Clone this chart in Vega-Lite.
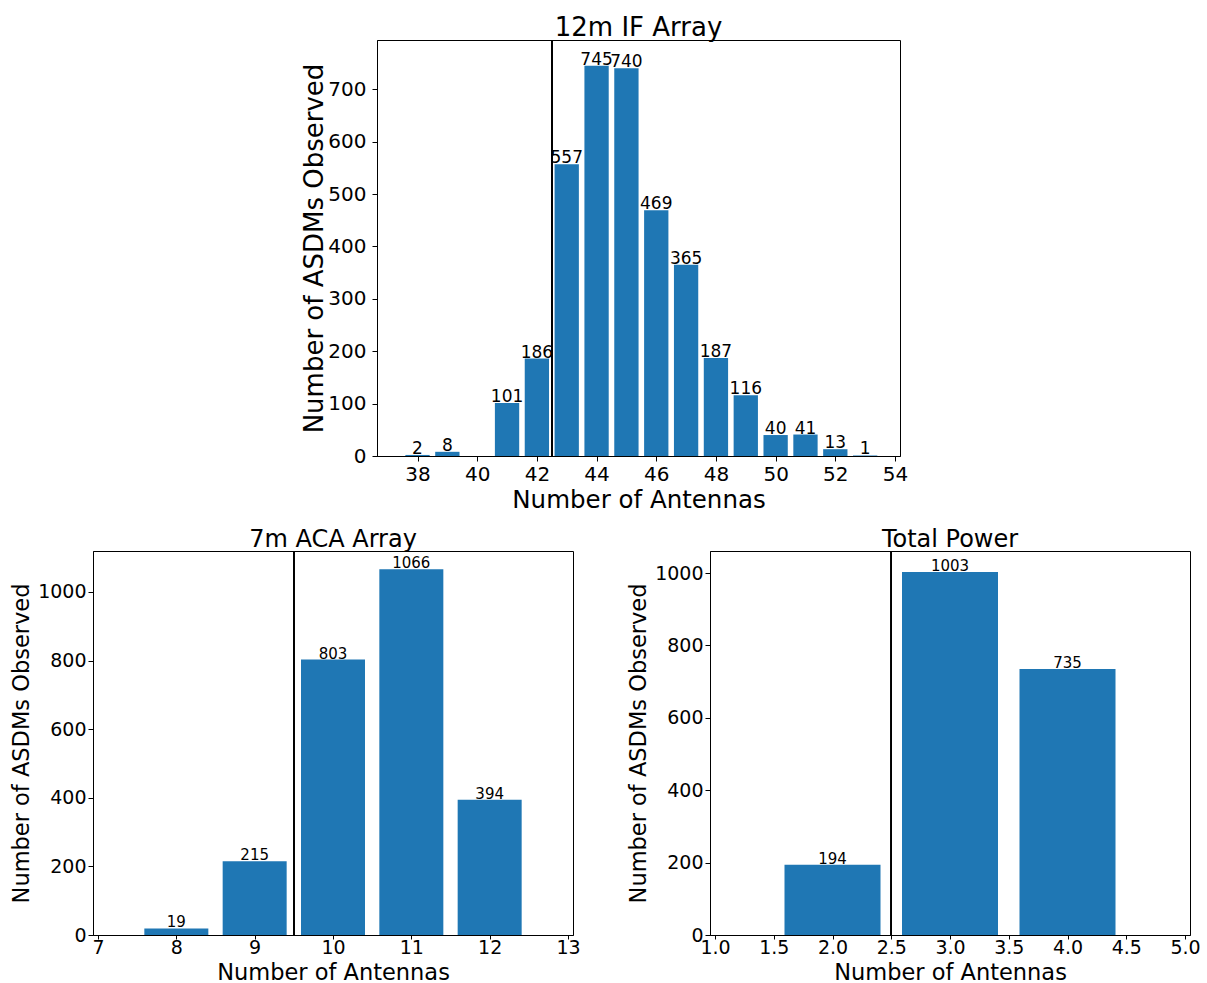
{
  "$schema": "https://vega.github.io/schema/vega-lite/v6.json",
  "background": "white",
  "padding": {"left": 10, "top": 14, "right": 2, "bottom": 0},
  "config": {
    "font": "DejaVu Sans",
    "view": {"stroke": "black", "strokeWidth": 1},
    "axis": {
      "grid": false,
      "domainColor": "black",
      "tickColor": "black",
      "labelColor": "black",
      "titleColor": "black",
      "titleFontWeight": "normal",
      "tickSize": 5,
      "labelPadding": 3,
      "titlePadding": 4,
      "labelFont": "DejaVu Sans",
      "titleFont": "DejaVu Sans"
    },
    "title": {"fontWeight": "normal", "color": "black", "font": "DejaVu Sans"}
  },
  "datasets": {
    "ifarray": [
      {"antennas": 38, "count": 2},
      {"antennas": 39, "count": 8},
      {"antennas": 40, "count": 0},
      {"antennas": 41, "count": 101},
      {"antennas": 42, "count": 186},
      {"antennas": 43, "count": 557},
      {"antennas": 44, "count": 745},
      {"antennas": 45, "count": 740},
      {"antennas": 46, "count": 469},
      {"antennas": 47, "count": 365},
      {"antennas": 48, "count": 187},
      {"antennas": 49, "count": 116},
      {"antennas": 50, "count": 40},
      {"antennas": 51, "count": 41},
      {"antennas": 52, "count": 13},
      {"antennas": 53, "count": 1}
    ],
    "aca": [
      {"antennas": 8, "count": 19},
      {"antennas": 9, "count": 215},
      {"antennas": 10, "count": 803},
      {"antennas": 11, "count": 1066},
      {"antennas": 12, "count": 394}
    ],
    "tp": [
      {"antennas": 1, "count": 0},
      {"antennas": 2, "count": 194},
      {"antennas": 3, "count": 1003},
      {"antennas": 4, "count": 735},
      {"antennas": 5, "count": 0}
    ]
  },
  "spacing": 15,
  "vconcat": [
    {
      "spacing": 10,
      "hconcat": [
        {
          "width": 198,
          "height": 10,
          "data": {"values": []},
          "mark": "point",
          "view": {"stroke": null}
        },
        {
          "width": 523,
          "height": 416,
          "title": {"text": "12m IF Array", "fontSize": 26, "offset": -2},
          "data": {"name": "ifarray"},
          "encoding": {
            "x": {
              "field": "antennas",
              "type": "quantitative",
              "scale": {"domain": [36.81, 54], "nice": false, "zero": false},
              "axis": {"values": [38, 40, 42, 44, 46, 48, 50, 52, 54], "title": "Number of Antennas", "labelFontSize": 20, "titleFontSize": 24.5, "labelPadding": 3}
            },
            "y": {
              "field": "count",
              "type": "quantitative",
              "scale": {"domain": [0, 794], "nice": false},
              "axis": {"values": [0, 100, 200, 300, 400, 500, 600, 700], "format": "d", "title": "Number of ASDMs Observed", "labelFontSize": 20, "titleFontSize": 26, "labelPadding": 6, "titlePadding": 0}
            }
          },
          "layer": [
            {"mark": {"type": "bar", "color": "#1f77b4", "size": 24.3}},
            {
              "transform": [{"filter": "datum.count > 0"}],
              "mark": {"type": "text", "baseline": "alphabetic", "dy": -1, "fontSize": 17, "color": "black"},
              "encoding": {"text": {"field": "count", "type": "quantitative", "format": "d"}}
            },
            {
              "mark": {"type": "rule", "color": "black", "strokeWidth": 1.5},
              "encoding": {"x": {"datum": 42.5}, "y": null}
            }
          ]
        }
      ]
    },
    {
      "spacing": 46,
      "hconcat": [
        {
          "width": 480,
          "height": 384,
          "title": {"text": "7m ACA Array", "fontSize": 24, "offset": -2},
          "data": {"name": "aca"},
          "encoding": {
            "x": {
              "field": "antennas",
              "type": "quantitative",
              "scale": {"domain": [7, 13], "nice": false, "zero": false},
              "axis": {"values": [7, 8, 9, 10, 11, 12, 13], "format": "d", "title": "Number of Antennas", "labelFontSize": 19, "titleFontSize": 22.5, "tickSize": 4, "labelPadding": -1}
            },
            "y": {
              "field": "count",
              "type": "quantitative",
              "scale": {"domain": [0, 1119.3], "nice": false},
              "axis": {"values": [0, 200, 400, 600, 800, 1000], "format": "d", "title": "Number of ASDMs Observed", "labelFontSize": 19, "titleFontSize": 22.5, "labelPadding": 2}
            }
          },
          "layer": [
            {"mark": {"type": "bar", "color": "#1f77b4", "size": 64}},
            {
              "transform": [{"filter": "datum.count > 0"}],
              "mark": {"type": "text", "baseline": "alphabetic", "dy": -1, "fontSize": 15, "color": "black"},
              "encoding": {"text": {"field": "count", "type": "quantitative", "format": "d"}}
            },
            {
              "mark": {"type": "rule", "color": "black", "strokeWidth": 1.5},
              "encoding": {"x": {"datum": 9.5}, "y": null}
            }
          ]
        },
        {
          "width": 480,
          "height": 384,
          "title": {"text": "Total Power", "fontSize": 24, "offset": -2},
          "data": {"name": "tp"},
          "encoding": {
            "x": {
              "field": "antennas",
              "type": "quantitative",
              "scale": {"domain": [1, 5], "nice": false, "zero": false},
              "axis": {"values": [1, 1.5, 2, 2.5, 3, 3.5, 4, 4.5, 5], "format": ".1f", "title": "Number of Antennas", "labelFontSize": 19, "titleFontSize": 22.5, "tickSize": 4, "labelPadding": -1}
            },
            "y": {
              "field": "count",
              "type": "quantitative",
              "scale": {"domain": [0, 1061], "nice": false},
              "axis": {"values": [0, 200, 400, 600, 800, 1000], "format": "d", "title": "Number of ASDMs Observed", "labelFontSize": 19, "titleFontSize": 22.5, "labelPadding": 2}
            }
          },
          "layer": [
            {"mark": {"type": "bar", "color": "#1f77b4", "size": 96, "clip": true}},
            {
              "transform": [{"filter": "datum.count > 0"}],
              "mark": {"type": "text", "baseline": "alphabetic", "dy": -1, "fontSize": 15, "color": "black"},
              "encoding": {"text": {"field": "count", "type": "quantitative", "format": "d"}}
            },
            {
              "mark": {"type": "rule", "color": "black", "strokeWidth": 1.5},
              "encoding": {"x": {"datum": 2.5}, "y": null}
            }
          ]
        }
      ]
    }
  ]
}
